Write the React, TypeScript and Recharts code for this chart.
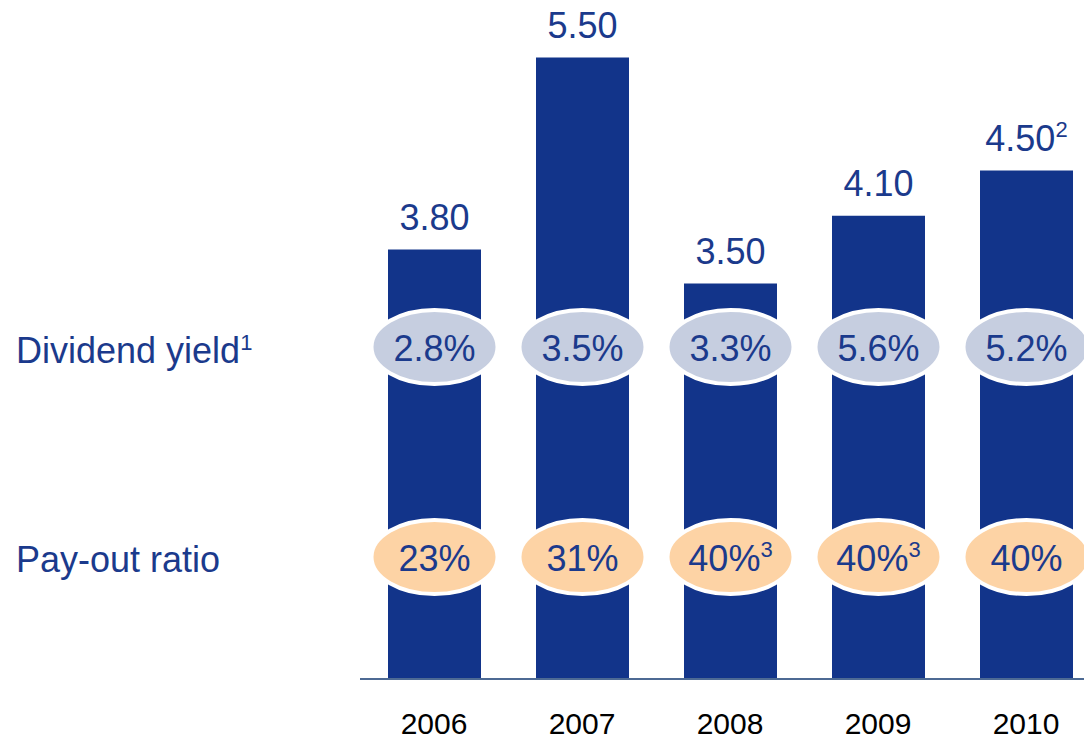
import { BarChart, Bar, XAxis, YAxis, LabelList } from 'recharts';

const years = ['2006', '2007', '2008', '2009', '2010'];
const dividends = [3.8, 5.5, 3.5, 4.1, 4.5];
const dividendNotes = ['', '', '', '', '2'];
const yields = ['2.8%', '3.5%', '3.3%', '5.6%', '5.2%'];
const payouts = ['23%', '31%', '40%', '40%', '40%'];
const payoutNotes = ['', '', '3', '3', ''];

const data = years.map((year, i) => ({ year, dividend: dividends[i] }));

const NAVY = '#12348a';
const TEXT = '#1b3a8c';
const FONT = '"Liberation Sans", Arial, sans-serif';

function ValueLabel(props: any) {
  const { x, y, width, index } = props;
  const note = dividendNotes[index];
  return (
    <text x={x + width / 2} y={y - 20} textAnchor="middle" fill={TEXT} fontSize={36} fontFamily={FONT}>
      {dividends[index].toFixed(2)}
      {note && <tspan dy={-14} fontSize={22}>{note}</tspan>}
    </text>
  );
}

function makeBubble(rowY: number, fill: string, texts: string[], notes: string[] | null) {
  return (props: any) => {
    const { x, width, index } = props;
    const cx = x + width / 2;
    const note = notes ? notes[index] : '';
    return (
      <g>
        <ellipse cx={cx} cy={rowY} rx={63} ry={37} fill={fill} stroke="#ffffff" strokeWidth={4} />
        <text x={cx} y={rowY + 14} textAnchor="middle" fill={TEXT} fontSize={36} fontFamily={FONT}>
          {texts[index]}
          {note && <tspan dy={-14} fontSize={22}>{note}</tspan>}
        </text>
      </g>
    );
  };
}

function YearTick(props: any) {
  const { x, y, payload } = props;
  return (
    <text x={x} y={y + 55} textAnchor="middle" fill="#000" fontSize={30} fontFamily={FONT}>
      {payload.value}
    </text>
  );
}

const rowLabel: React.CSSProperties = {
  position: 'absolute',
  left: 16,
  fontSize: 36,
  lineHeight: '36px',
  color: TEXT,
  fontFamily: FONT,
  whiteSpace: 'nowrap',
};

export default function App() {
  return (
    <div style={{ position: 'relative', width: 1084, height: 741, overflow: 'hidden', background: '#fff' }}>
      <style>{'body{margin:0}'}</style>
      <BarChart width={1101} height={741} data={data} margin={{ top: 1, right: 1, left: 360, bottom: 32 }}>
        <XAxis
          dataKey="year"
          height={30}
          axisLine={{ stroke: '#4d6a94', strokeWidth: 2 }}
          tickLine={false}
          tickSize={0}
          tickMargin={0}
          tick={<YearTick />}
          interval={0}
        />
        <YAxis hide domain={[0, 6]} />
        <Bar dataKey="dividend" fill={NAVY} barSize={93} isAnimationActive={false}>
          <LabelList dataKey="dividend" content={<ValueLabel />} />
          <LabelList dataKey="dividend" content={makeBubble(347, '#c6cee0', yields, null)} />
          <LabelList dataKey="dividend" content={makeBubble(557, '#fdd3a5', payouts, payoutNotes)} />
        </Bar>
      </BarChart>
      <div style={{ ...rowLabel, top: 333 }}>
        Dividend yield
        <span style={{ fontSize: 22, position: 'relative', top: -13 }}>1</span>
      </div>
      <div style={{ ...rowLabel, top: 542 }}>Pay-out ratio</div>
    </div>
  );
}
